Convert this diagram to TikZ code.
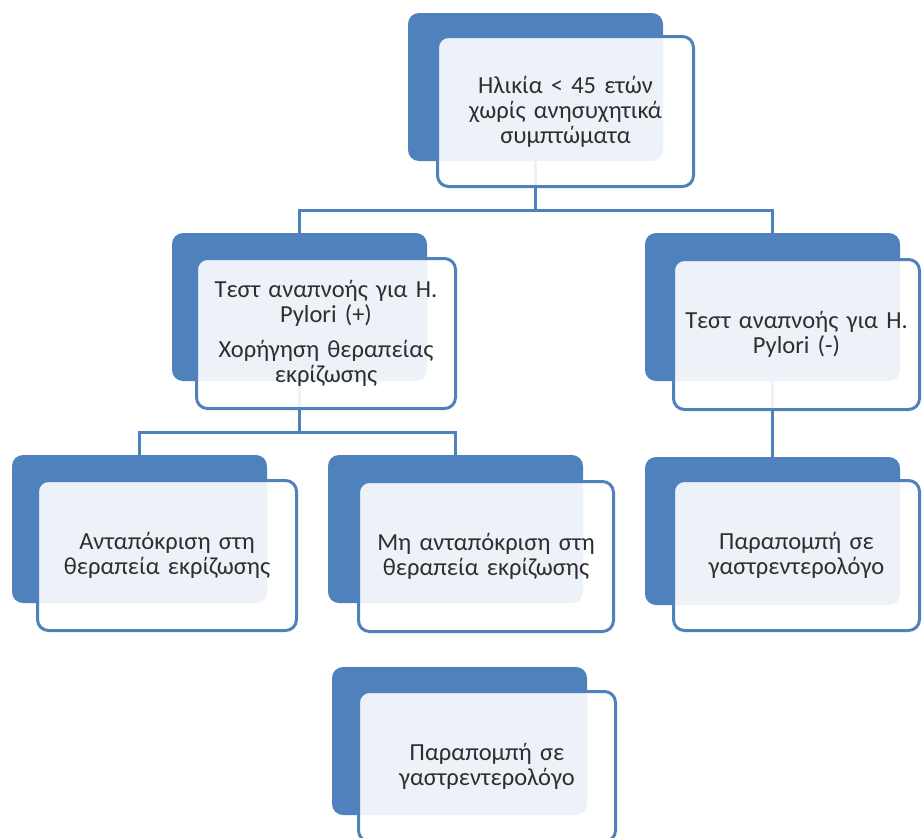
\documentclass[tikz,border=0pt]{standalone}
\usepackage{fontspec}
\setmainfont{Carlito}[WordSpace=0.5]
\usetikzlibrary{calc}
\definecolor{boxblue}{HTML}{4F81BD}
\definecolor{txtgrey}{HTML}{2E2E2E}
\pgfdeclarelayer{bg}
\pgfsetlayers{bg,main}
\tikzset{
  backbox/.style={rectangle, rounded corners=11pt, fill=boxblue, minimum width=255pt, minimum height=148pt, inner sep=0pt, outer sep=0pt},
  frontbox/.style={rectangle, rounded corners=11pt, draw=boxblue, line width=3pt, fill=white, fill opacity=0.9, text opacity=1, minimum height=150pt, align=center, inner sep=0pt, outer sep=0pt, text=txtgrey, font=\fontsize{24.5pt}{25pt}\selectfont},
  conn/.style={draw=boxblue, line width=3pt}
}
% name, back x, back y, front x, front y, front width, text
\newcommand\mkbox[7]{%
  \node[backbox] (#1b) at (#2+127.5, #3+74) {};
  \node[frontbox, minimum width=#6pt, text width=#6pt-6pt] (#1) at (#4+1.5+#6/2, #5+1.5+75) {#7};
}
\begin{document}
\begin{tikzpicture}[x=1pt, y=-1pt]
\useasboundingbox (0,0) rectangle (922,838);
\mkbox{top}{408}{13}{436}{35}{256}{Ηλικία < 45 ετών\\χωρίς ανησυχητικά\\συμπτώματα}
\mkbox{ltwo}{172}{233}{195}{257}{259}{Τεστ αναπνοής για Η.\\Pylori (+)\\[10pt]Χορήγηση θεραπείας\\εκρίζωσης}
\mkbox{rtwo}{645}{233}{672}{258}{246}{Τεστ αναπνοής για Η.\\Pylori (-)}
\mkbox{lthree}{12}{455}{36}{479}{259}{Ανταπόκριση στη\\θεραπεία εκρίζωσης}
\mkbox{mthree}{328}{455}{357}{480}{255}{Μη ανταπόκριση στη\\θεραπεία εκρίζωσης}
\mkbox{rthree}{645}{457}{672}{479}{246}{Παραπομπή σε\\γαστρεντερολόγο}
\mkbox{bot}{332}{667}{357}{690}{257}{Παραπομπή σε\\γαστρεντερολόγο}
\coordinate (jone) at (0,210);
\coordinate (jtwo) at (0,432);
\begin{pgfonlayer}{bg}
  \draw[conn] (topb.south) -- (topb.south |- jone);
  \draw[conn] (ltwob.north) |- (rtwob.north |- jone) -- (rtwob.north);
  \draw[conn] (ltwob.south) -- (ltwob.south |- jtwo);
  \draw[conn] (lthreeb.north) |- (mthreeb.north |- jtwo) -- (mthreeb.north);
  \draw[conn] (rtwob.south) -- (rthreeb.north);
\end{pgfonlayer}
\end{tikzpicture}
\end{document}
